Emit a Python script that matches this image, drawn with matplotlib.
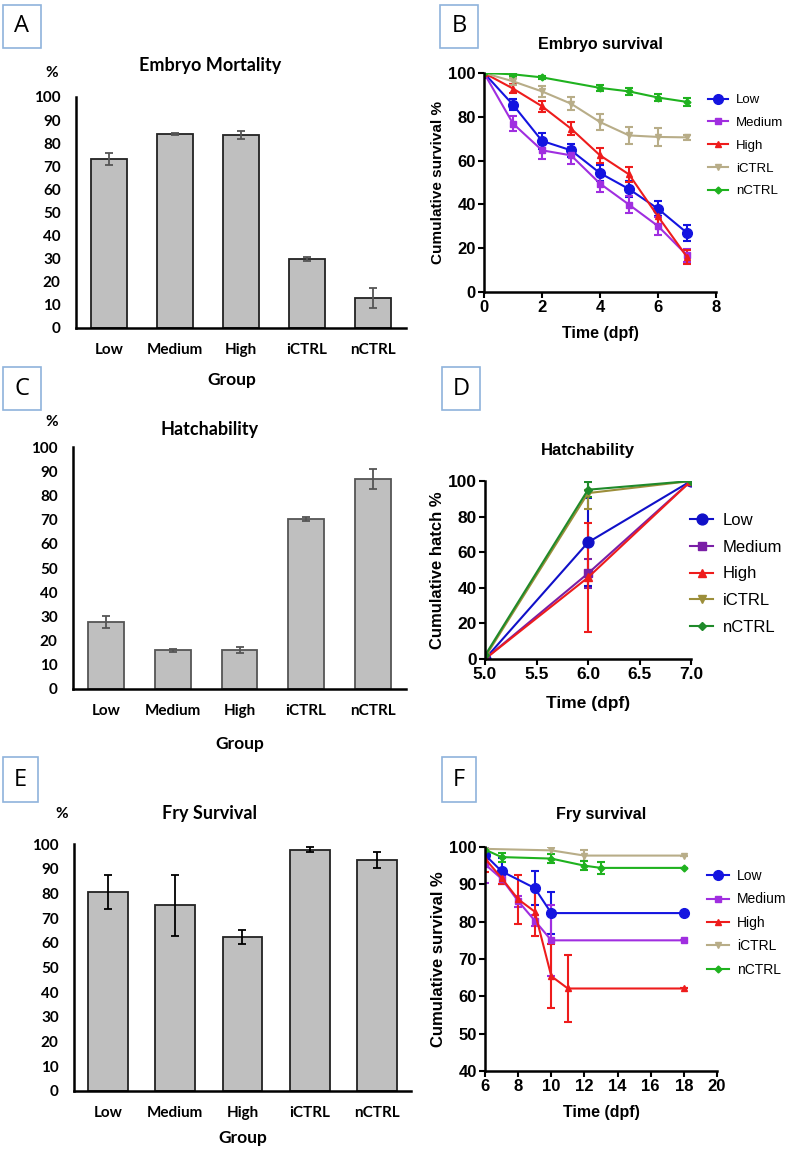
import numpy as np
import matplotlib
matplotlib.use('Agg')
import matplotlib.pyplot as plt
from matplotlib.patches import Rectangle

W, H = 786, 1149

# ---- data ----
groups = ['Low', 'Medium', 'High', 'iCTRL', 'nCTRL']

mort_mean = [73.1, 84.0, 83.4, 29.9, 13.1]
mort_err = [2.6, 0.5, 1.7, 0.7, 4.3]

hatch_mean = [27.7, 16.0, 16.1, 70.2, 86.8]
hatch_err = [2.5, 0.7, 1.3, 0.7, 4.3]

fry_mean = [80.6, 75.2, 62.2, 97.6, 93.5]
fry_err = [7.0, 12.4, 2.8, 1.0, 3.4]

# embryo survival (panel B)
emb_t = {
    'Low': [0, 1, 2, 3, 4, 5, 6, 7],
    'Medium': [0, 1, 2, 3, 4, 5, 6, 7],
    'High': [0, 1, 2, 3, 4, 5, 6, 7],
    'iCTRL': [0, 1, 2, 3, 4, 5, 6, 7],
    'nCTRL': [0, 1, 2, 4, 5, 6, 7],
}
emb_y = {
    'Low': [100, 85.5, 69.0, 64.7, 54.3, 47.0, 38.0, 27.0],
    'Medium': [100, 76.9, 64.7, 62.4, 49.5, 39.9, 30.1, 16.8],
    'High': [100, 92.9, 84.8, 74.6, 62.4, 53.7, 34.5, 16.0],
    'iCTRL': [100, 96.2, 91.6, 86.0, 77.6, 71.5, 70.8, 70.6],
    'nCTRL': [100, 99.4, 98.0, 93.2, 91.6, 88.8, 86.8],
}
emb_e = {
    'Low': [0, 2.5, 3.5, 3.0, 3.5, 3.5, 3.5, 3.5],
    'Medium': [0, 3.5, 4.0, 4.0, 4.0, 4.0, 4.0, 3.0],
    'High': [0, 2.0, 2.5, 3.0, 3.5, 3.5, 3.5, 3.0],
    'iCTRL': [0, 1.5, 2.5, 3.0, 3.5, 4.0, 4.0, 1.0],
    'nCTRL': [0, 0.8, 0.8, 1.5, 1.5, 1.8, 1.8],
}

# hatchability (panel D)
hat_t = [5.0, 6.0, 7.0]
hat_y = {
    'Low': [0, 65.5, 100],
    'Medium': [0, 48.1, 100],
    'High': [0, 45.8, 100],
    'iCTRL': [1.0, 93.2, 100],
    'nCTRL': [2.0, 95.1, 100],
}
hat_e = {
    'Low': [0, 24.7, 0],
    'Medium': [0, 8.0, 0],
    'High': [0, 30.7, 0],
    'iCTRL': [0, 9.0, 0],
    'nCTRL': [0, 4.3, 0],
}

# fry survival (panel F)
fry_t = {
    'Low': [6, 7, 9, 10, 18],
    'Medium': [6, 7, 8, 9, 10, 18],
    'High': [6, 7, 8, 9, 10, 11, 18],
    'iCTRL': [6, 10, 12, 18],
    'nCTRL': [6, 7, 10, 12, 13, 18],
}
fry_y = {
    'Low': [97.9, 93.5, 89.0, 82.3, 82.3],
    'Medium': [95.4, 91.5, 85.5, 80.3, 75.0, 75.0],
    'High': [96.9, 91.7, 86.0, 82.7, 65.4, 62.1, 62.1],
    'iCTRL': [99.5, 99.1, 97.7, 97.7],
    'nCTRL': [99.3, 97.3, 96.9, 95.0, 94.4, 94.4],
}
fry_e = {
    'Low': [2.0, 3.5, 4.6, 5.7, 0],
    'Medium': [5.0, 1.5, 1.5, 1.5, 9.5, 0],
    'High': [3.7, 1.5, 6.5, 6.5, 8.6, 9.0, 0],
    'iCTRL': [0.8, 1.0, 1.5, 0],
    'nCTRL': [1.0, 1.2, 1.2, 1.2, 1.5, 0],
}

col_b = {'Low': '#1414e0', 'Medium': '#a02ee0', 'High': '#ee1c1c',
         'iCTRL': '#b8ad88', 'nCTRL': '#1fb21f'}
col_d = {'Low': '#1010c8', 'Medium': '#7a1fa6', 'High': '#ee1c1c',
         'iCTRL': '#9c8e3a', 'nCTRL': '#1f8a2a'}
mk = {'Low': 'o', 'Medium': 's', 'High': '^', 'iCTRL': 'v', 'nCTRL': 'D'}
ms_b = {'Low': 7, 'Medium': 4.5, 'High': 5, 'iCTRL': 5, 'nCTRL': 3.5}

fig = plt.figure(figsize=(W / 100, H / 100), dpi=100)

def px_axes(x0, x1, y0, y1):
    return fig.add_axes([x0 / W, 1 - y1 / H, (x1 - x0) / W, (y1 - y0) / H])

def fx(x):
    return x / W

def fy(y):
    return 1 - y / H

bar_font = 'Lato'
line_font = 'Liberation Sans'

def panel_box(x0, y0, x1, y1, letter):
    fig.add_artist(Rectangle((fx(x0), fy(y1)), (x1 - x0) / W, (y1 - y0) / H,
                             transform=fig.transFigure, fill=False,
                             ec='#8fb3dc', lw=1.2))
    fig.text(fx((x0 + x1) / 2), fy((y0 + y1) / 2), letter, ha='center',
             va='center', fontsize=17, family='Open Sans')

def bar_panel(ax, means, errs, title, title_xy, pct_xy, group_xy, width, ecol,
              bar_ec):
    x = np.arange(len(groups))
    ax.bar(x, means, width=width, color='#bfbfbf', edgecolor=bar_ec, lw=1.3,
           zorder=2)
    ax.errorbar(x, means, yerr=errs, fmt='none', ecolor=ecol, elinewidth=1.3,
                capsize=3, capthick=1.3, zorder=3)
    ax.set_xlim(-0.5, 4.5)
    ax.set_ylim(0, 100)
    ax.set_yticks(range(0, 101, 10))
    ax.set_xticks(x)
    ax.set_xticklabels(groups)
    for s in ['top', 'right']:
        ax.spines[s].set_visible(False)
    for s in ['left', 'bottom']:
        ax.spines[s].set_linewidth(1.8)
        ax.spines[s].set_color('black')
    ax.tick_params(length=0)
    ax.tick_params(axis='x', pad=11)
    ax.tick_params(axis='y', pad=11)
    for lab in ax.get_xticklabels() + ax.get_yticklabels():
        lab.set_fontfamily(bar_font)
        lab.set_fontweight('bold')
        lab.set_fontsize(11)
    fig.text(fx(title_xy[0]), fy(title_xy[1]), title, ha='center',
             va='center', fontsize=13, fontweight='bold', family=bar_font)
    fig.text(fx(pct_xy[0]), fy(pct_xy[1]), '%', ha='center', va='center',
             fontsize=11, fontweight='bold', family=bar_font)
    fig.text(fx(group_xy[0]), fy(group_xy[1]), 'Group', ha='center',
             va='center', fontsize=12.5, fontweight='bold', family=bar_font)

def line_style(ax, fs):
    for s in ['top', 'right']:
        ax.spines[s].set_visible(False)
    for s in ['left', 'bottom']:
        ax.spines[s].set_linewidth(1.8)
    ax.tick_params(direction='out', length=4, width=1.5, pad=2)
    for lab in ax.get_xticklabels() + ax.get_yticklabels():
        lab.set_fontfamily(line_font)
        lab.set_fontweight('bold')
        lab.set_fontsize(fs)

def draw_lines(ax, tdict, ydict, edict, cols, msadd=0.0):
    handles = []
    for g in groups:
        t = tdict[g] if isinstance(tdict, dict) else tdict
        c = ax.errorbar(t, ydict[g], yerr=edict[g], color=cols[g],
                        marker=mk[g], ms=ms_b[g] + msadd, lw=1.5,
                        elinewidth=1.5, capsize=3, capthick=1.5, label=g)
        handles.append(c[0])
    return handles

# ---- panel A ----
axA = px_axes(76, 406, 97, 328)
bar_panel(axA, mort_mean, mort_err, 'Embryo Mortality', (210, 66), (52, 73),
          (232, 380), 0.55, '#555555', '#222222')

# ---- panel C ----
axC = px_axes(73, 406, 447, 689)
bar_panel(axC, hatch_mean, hatch_err, 'Hatchability', (210, 430), (52, 422),
          (240, 744), 0.54, '#555555', '#555555')

# ---- panel E ----
axE = px_axes(74, 411, 844, 1091)
bar_panel(axE, fry_mean, fry_err, 'Fry Survival', (210, 813), (62, 814),
          (243, 1138), 0.59, 'black', '#222222')

# ---- panel B ----
axB = px_axes(484, 716, 73, 292)
hB = draw_lines(axB, emb_t, emb_y, emb_e, col_b)
axB.set_xlim(0, 8)
axB.set_ylim(0, 100)
axB.set_xticks([0, 2, 4, 6, 8])
axB.set_yticks(range(0, 101, 20))
line_style(axB, 12)
axB.set_ylabel('Cumulative survival %', fontsize=11, fontweight='bold',
               family=line_font, labelpad=2)
axB.set_xlabel('Time (dpf)', fontsize=11.5, fontweight='bold',
               family=line_font, labelpad=8)
axB.set_title('Embryo survival', fontsize=11.5, fontweight='bold',
              family=line_font, pad=17)
fig.legend(hB, groups, loc='upper left', bbox_to_anchor=(fx(708), fy(94)),
           frameon=False, prop={'family': line_font, 'size': 9.5},
           handlelength=1.5, labelspacing=0.8, handletextpad=0.65,
           borderaxespad=0, borderpad=0)

# ---- panel D ----
axD = px_axes(485, 691, 481, 659)
hD = draw_lines(axD, hat_t, hat_y, hat_e, col_d, msadd=0.8)
axD.set_xlim(5, 7)
axD.set_ylim(0, 100)
axD.set_xticks([5.0, 5.5, 6.0, 6.5, 7.0])
axD.set_xticklabels(['5.0', '5.5', '6.0', '6.5', '7.0'])
axD.set_yticks(range(0, 101, 20))
line_style(axD, 12.5)
axD.set_ylabel('Cumulative hatch %', fontsize=12, fontweight='bold',
               family=line_font, labelpad=2)
axD.set_xlabel('Time (dpf)', fontsize=12.5, fontweight='bold',
               family=line_font, labelpad=10)
axD.set_title('Hatchability', fontsize=12, fontweight='bold',
              family=line_font, pad=19)
fig.legend(hD, groups, loc='upper left', bbox_to_anchor=(fx(690), fy(513)),
           frameon=False, prop={'family': line_font, 'size': 12},
           handlelength=1.4, labelspacing=0.7, handletextpad=0.55,
           borderaxespad=0, borderpad=0)

# ---- panel F ----
axF = px_axes(485, 717, 847, 1071)
hF = draw_lines(axF, fry_t, fry_y, fry_e, col_b)
axF.set_xlim(6, 20)
axF.set_ylim(40, 100)
axF.set_xticks(range(6, 21, 2))
axF.set_yticks(range(40, 101, 10))
line_style(axF, 12)
axF.set_ylabel('Cumulative survival %', fontsize=12, fontweight='bold',
               family=line_font, labelpad=2)
axF.set_xlabel('Time (dpf)', fontsize=11.5, fontweight='bold',
               family=line_font, labelpad=8)
axF.set_title('Fry survival', fontsize=11.5, fontweight='bold',
              family=line_font, pad=20)
fig.legend(hF, groups, loc='upper left', bbox_to_anchor=(fx(707), fy(869)),
           frameon=False, prop={'family': line_font, 'size': 10},
           handlelength=1.6, labelspacing=0.68, handletextpad=0.55,
           borderaxespad=0, borderpad=0)

# ---- panel letters ----
panel_box(3, 5, 41, 48, 'A')
panel_box(440, 5, 478, 48, 'B')
panel_box(3, 367, 41, 410, 'C')
panel_box(442, 367, 480, 410, 'D')
panel_box(3, 757, 38, 802, 'E')
panel_box(442, 757, 476, 802, 'F')

fig.savefig('out.png', dpi=100)
